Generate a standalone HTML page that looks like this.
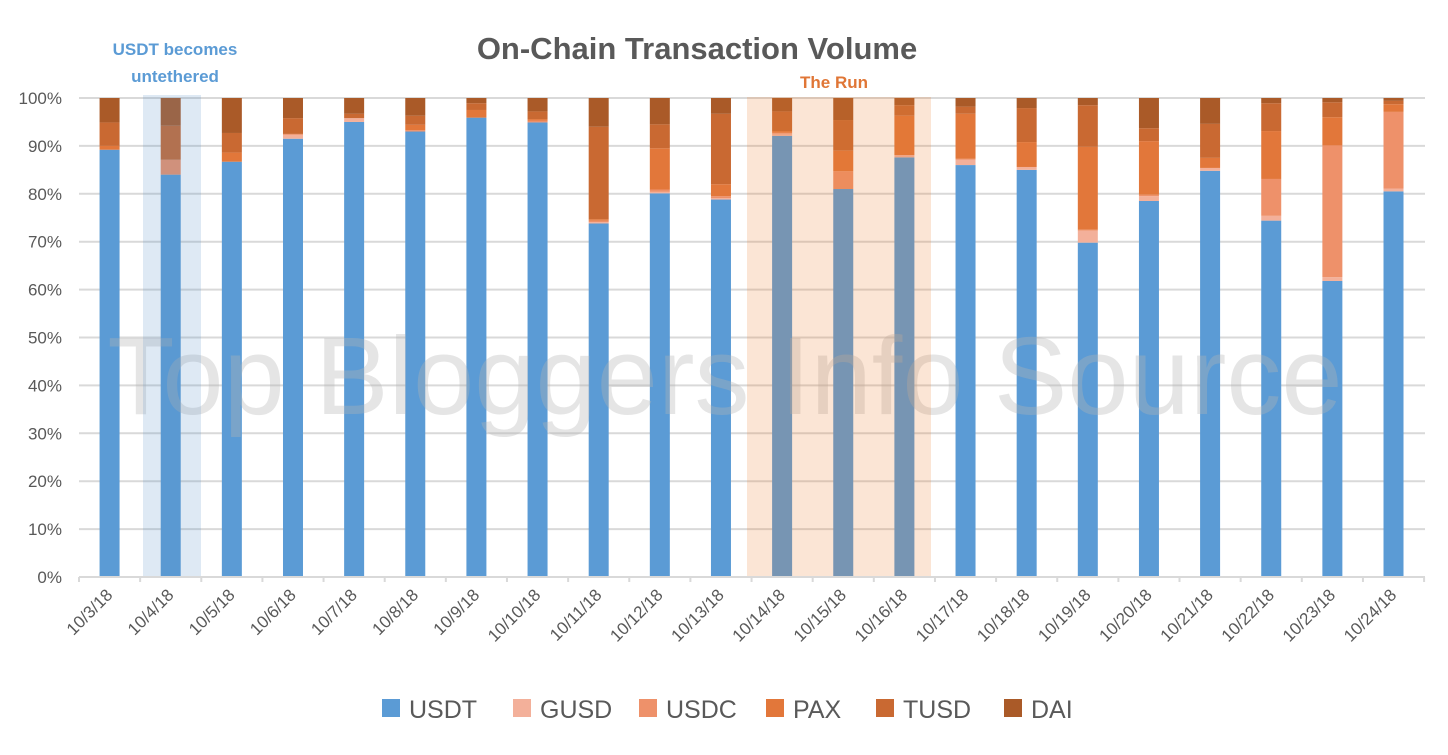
<!DOCTYPE html>
<html><head><meta charset="utf-8"><style>
body{margin:0;background:#fff;}
svg text{font-family:"Liberation Sans",sans-serif;}
</style></head><body>
<svg id="chart" width="1448" height="750" xmlns="http://www.w3.org/2000/svg">
<text x="697" y="59" text-anchor="middle" font-size="31" font-weight="bold" fill="#595959">On-Chain Transaction Volume</text>
<text x="175" y="55" text-anchor="middle" font-size="17" font-weight="bold" fill="#5B9BD5">USDT becomes</text>
<text x="175" y="82" text-anchor="middle" font-size="17" font-weight="bold" fill="#5B9BD5">untethered</text>
<text x="834" y="88" text-anchor="middle" font-size="17" font-weight="bold" fill="#E07636">The Run</text>
<g id="grid"></g><g id="bars"></g>
<text x="725" y="414" text-anchor="middle" font-size="110" fill="#b4b4b4" fill-opacity="0.35">Top Bloggers Info Source</text>
<g id="overlays"></g><g id="axes"></g>
<g id="legend"></g>
</svg>
<script>
const categories=["10/3/18","10/4/18","10/5/18","10/6/18","10/7/18","10/8/18","10/9/18","10/10/18","10/11/18","10/12/18","10/13/18","10/14/18","10/15/18","10/16/18","10/17/18","10/18/18","10/19/18","10/20/18","10/21/18","10/22/18","10/23/18","10/24/18"];
const seriesNames=["USDT","GUSD","USDC","PAX","TUSD","DAI"];
const usdt=[89.2,84,86.7,91.5,95,93,95.9,94.9,73.8,80.1,78.8,92.1,81,87.6,86,85,69.8,78.5,84.8,74.4,61.8,80.5];
const gusd=[0,0,0,0.8,0.8,0,0,0,0.3,0.3,0.3,0.5,0,0.5,1.1,0.6,2.5,1,0.6,1,0.8,0.6];
const usdc=[0,3.1,0,0.2,0,0.3,0,0.4,0.3,0.5,0.4,0.2,3.7,0,0.2,0,0.2,0.3,0,7.7,27.5,16];
const pax=[0.8,0,1.9,0,0,1.1,1.6,0.3,0.3,8.6,2.5,0.3,4.3,8.2,9.4,5.2,17.3,11.2,2.1,10,5.9,1.6];
const tusd=[4.9,7.1,4.1,3.3,0.9,1.9,1.4,1.6,19.3,5,14.7,4.1,6.4,2.2,1.5,7.1,8.7,2.7,7.1,5.8,3.1,0.7];
const dai=[5.1,5.8,7.3,4.2,3.3,3.7,1.1,2.8,6,5.5,3.3,2.8,4.6,1.5,1.8,2.1,1.5,6.3,5.4,1.1,0.9,0.6];
const yTicks=[0,10,20,30,40,50,60,70,80,90,100];
const series=[usdt,gusd,usdc,pax,tusd,dai];
const colors=["#5B9BD5","#F3B09A","#EE916A","#E2773A","#C96932","#AA5A28"];
const NS="http://www.w3.org/2000/svg";
const X0=79,STEP=61.14,Y0=577,YPX=4.79,BW=20;
const xc=i=>X0+STEP*(i+0.5);
const ys=v=>Y0-v*YPX;
function mk(tag,attrs,parent){const e=document.createElementNS(NS,tag);for(const k in attrs)e.setAttribute(k,attrs[k]);document.getElementById(parent).appendChild(e);return e;}
yTicks.forEach(t=>{
 const l=mk('line',{x1:X0,x2:1425,y1:ys(t),y2:ys(t),stroke:'#D9D9D9','stroke-width':2},'grid');
 
 
 const tx=mk('text',{x:62,y:ys(t)+6,'text-anchor':'end','font-size':17,fill:'#595959'},'axes');
 tx.textContent=t+'%';
 
 
});
categories.forEach((c,i)=>{
 let acc=0;
 series.forEach((s,k)=>{
  const v=s[i]; if(v<=0)return;
  const r=mk('rect',{x:xc(i)-BW/2,y:ys(acc+v),width:BW,height:v*YPX,fill:colors[k]},'bars');
  
  
  acc+=v;
 });
 const tk=mk('line',{x1:X0+STEP*i,x2:X0+STEP*i,y1:Y0,y2:Y0+5,stroke:'#D9D9D9','stroke-width':2},'axes');
 
 
 const lx=xc(i)+4,ly=596;
 const t=mk('text',{x:lx,y:ly,'text-anchor':'end','font-size':17,fill:'#595959',transform:'rotate(-45 '+lx+' '+ly+')'},'axes');
 t.textContent=c;
 
 
});
const lt=mk('line',{x1:X0+STEP*22,x2:X0+STEP*22,y1:Y0,y2:Y0+5,stroke:'#D9D9D9','stroke-width':2},'axes');


const ax=mk('line',{x1:X0,x2:1425,y1:Y0,y2:Y0,stroke:'#D9D9D9','stroke-width':2},'axes');


const o1=mk('rect',{x:143,y:95,width:58,height:483,fill:'rgb(90,145,200)','fill-opacity':0.2},'overlays');


const o2=mk('rect',{x:747,y:97,width:184,height:481,fill:'rgb(236,125,43)','fill-opacity':0.2},'overlays');


const lxs=[382,513,639,766,876,1004];
seriesNames.forEach((n,k)=>{
 const sq=mk('rect',{x:lxs[k],y:699,width:18,height:18,fill:colors[k]},'legend');
 
 
 const t=mk('text',{x:lxs[k]+27,y:718,'font-size':25,fill:'#595959'},'legend');
 t.textContent=n;
 
 
});
</script>
</body></html>
